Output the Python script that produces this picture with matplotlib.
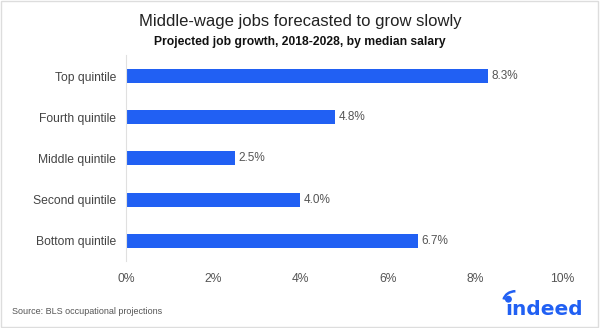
import matplotlib.pyplot as plt
from matplotlib.patches import Rectangle, Arc, Ellipse

# data
categories = ['Top quintile', 'Fourth quintile', 'Middle quintile',
              'Second quintile', 'Bottom quintile']
growth = [8.3, 4.8, 2.5, 4.0, 6.7]
xticks = [0, 2, 4, 6, 8, 10]
xtick_labels = ['0%', '2%', '4%', '6%', '8%', '10%']

blue = '#2160F3'
W, H = 600, 328
plt.rcParams['font.family'] = ['Liberation Sans', 'DejaVu Sans']

fig = plt.figure(figsize=(W / 100, H / 100), dpi=100)
ax = fig.add_axes([0.21, 0.203, 0.727, 0.628])

y = list(range(len(categories)))
ax.barh(y, growth, height=0.34, color=blue)
for yi, v in zip(y, growth):
    ax.text(v + 0.08, yi, f'{v:.1f}%', va='center', ha='left',
            fontsize=8.5, color='#555555')

ax.set_yticks(y)
ax.set_yticklabels(categories, fontsize=8.7, color='#444444')
ax.set_ylim(len(categories) - 0.5, -0.5)
ax.set_xlim(0, 10)
ax.set_xticks(xticks)
ax.set_xticklabels(xtick_labels, fontsize=8.7, color='#555555')
ax.tick_params(length=0)
ax.tick_params(axis='x', pad=8)
ax.tick_params(axis='y', pad=7)
for s in ['top', 'right', 'bottom']:
    ax.spines[s].set_visible(False)
ax.spines['left'].set_color('#e0e0e0')

fig.text(0.5, 0.933, 'Middle-wage jobs forecasted to grow slowly',
         ha='center', va='center', fontsize=12, color='#222222')
fig.text(0.5, 0.872, 'Projected job growth, 2018-2028, by median salary',
         ha='center', va='center', fontsize=8.7, fontweight='bold',
         color='#111111')
fig.text(0.02, 0.049, 'Source: BLS occupational projections',
         ha='left', va='center', fontsize=6.5, color='#555555')

# indeed logo: dotless i word + drawn dot + arc
fs = 14.5
px = fs * 100 / 72
x0 = 505
fig.text(x0 / W, 13 / H, '\u0131ndeed', ha='left', va='baseline',
         fontsize=fs, color=blue, fontweight='bold', family='DejaVu Sans')
cx = x0 + 0.17 * px
dy = 13 + 0.56 * px + 4.5
fig.patches.append(Ellipse((cx / W, dy / H), 5.5 / W, 5.5 / H,
                           transform=fig.transFigure, color=blue))
fig.patches.append(Arc(((cx + 7) / W, (dy - 2) / H), 24 / W, 20 / H,
                       theta1=90, theta2=165, transform=fig.transFigure,
                       color=blue, lw=1.8))

fig.patches.append(Rectangle((0.002, 0.003), 0.995, 0.993, fill=False,
                             edgecolor='#dddddd', lw=1,
                             transform=fig.transFigure))

fig.savefig('out.png', dpi=100)
